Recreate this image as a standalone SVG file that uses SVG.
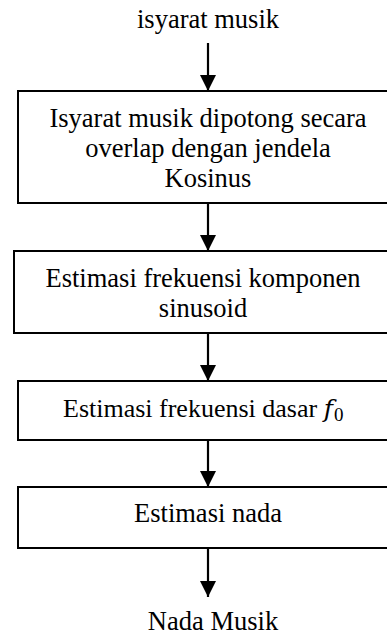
<svg xmlns="http://www.w3.org/2000/svg" width="387" height="635" viewBox="0 0 387 635">
<style>
text{font-family:"Liberation Serif","Times New Roman",serif;font-size:26.5px;fill:#000;text-anchor:middle}
.box{fill:#fff;stroke:#000;stroke-width:2}
.conn line{stroke:#000;stroke-width:2.2}
</style>
<defs>
<marker id="ah" markerUnits="userSpaceOnUse" markerWidth="16" markerHeight="16" viewBox="0 0 16 16" refX="16" refY="8" orient="auto">
<path d="M0,0 L16,8 L0,16 Z" fill="#000"/>
</marker>
</defs>
<g id="input"><text x="208" y="28">isyarat musik</text></g>
<g id="node1">
<rect class="box" x="18" y="91" width="390" height="112"/>
<text x="208" y="127">Isyarat musik dipotong secara</text>
<text x="208" y="157">overlap dengan jendela</text>
<text x="208" y="187">Kosinus</text>
</g>
<g id="node2">
<rect class="box" x="14" y="251" width="394" height="82"/>
<text x="203" y="287">Estimasi frekuensi komponen</text>
<text x="203" y="317">sinusoid</text>
</g>
<g id="node3">
<rect class="box" x="18" y="381" width="390" height="59"/>
<text x="63" y="417" style="text-anchor:start;font-size:26px">Estimasi frekuensi dasar <tspan font-style="italic" font-family="'DejaVu Serif','Liberation Serif',serif" font-size="25">f</tspan><tspan font-size="19" dy="4" dx="1">0</tspan></text>
</g>
<g id="node4">
<rect class="box" x="18" y="487" width="390" height="61"/>
<text x="208" y="522">Estimasi nada</text>
</g>
<g id="output"><text x="213" y="630">Nada Musik</text></g>
<g class="conn" id="connectors">
<line x1="208" y1="43" x2="208" y2="91" marker-end="url(#ah)"/>
<line x1="208" y1="203" x2="208" y2="251" marker-end="url(#ah)"/>
<line x1="208" y1="333" x2="208" y2="381" marker-end="url(#ah)"/>
<line x1="208" y1="440" x2="208" y2="487" marker-end="url(#ah)"/>
<line x1="208" y1="548" x2="208" y2="597" marker-end="url(#ah)"/>
</g>
</svg>
